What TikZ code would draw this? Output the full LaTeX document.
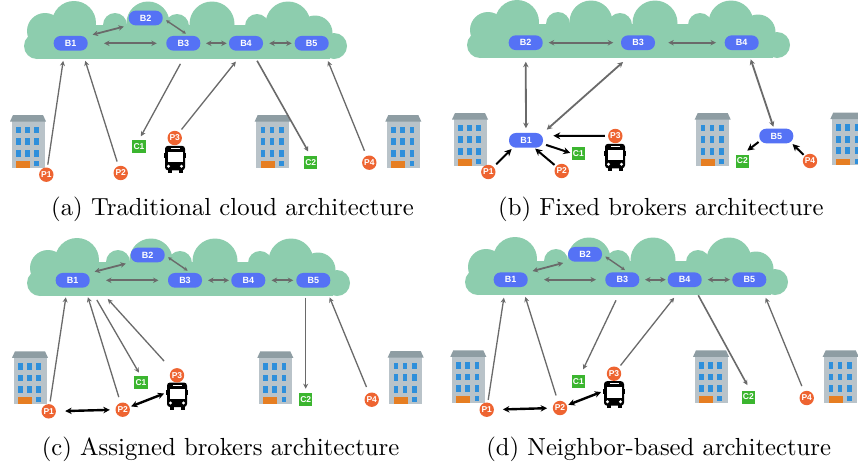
\documentclass[tikz,border=0pt]{standalone}
\usepackage{fontspec}
\setsansfont{Liberation Sans}
\usetikzlibrary{arrows.meta}
\definecolor{cloudc}{HTML}{8DCDAE}
\definecolor{brokerc}{HTML}{5572F5}
\definecolor{pubc}{HTML}{EE6431}
\definecolor{cliec}{HTML}{3BB52F}
\definecolor{linec}{HTML}{6A6A6A}
\definecolor{roofc}{HTML}{8E9DA3}
\definecolor{wallc}{HTML}{B9C3C9}
\definecolor{winc}{HTML}{2E8FDB}
\definecolor{doorc}{HTML}{E67E22}
\tikzset{
  x=1pt,y=-1pt,
  broker/.style={draw=none,fill=brokerc,rounded corners=7pt,minimum width=34pt,minimum height=14.7pt,inner sep=0pt,outer sep=0pt,text=white,font=\sffamily\bfseries\fontsize{9}{9}\selectfont},
  pub/.style={circle,fill=pubc,minimum size=14.4pt,inner sep=0pt,outer sep=0pt,text=white,font=\sffamily\bfseries\fontsize{8.5}{9}\selectfont},
  clie/.style={fill=cliec,minimum width=13.5pt,minimum height=13pt,inner sep=0pt,outer sep=0pt,text=white,font=\sffamily\bfseries\fontsize{8.5}{9}\selectfont},
  busbox/.style={minimum width=22pt,minimum height=27pt,inner sep=0pt,outer sep=0pt},
  captext/.style={inner sep=0pt,scale=2.47,font=\fontsize{10}{12}\selectfont,anchor=base},
  sh/.style 2 args={shorten <=#1pt,shorten >=#2pt},
  thin link/.style={draw=linec,line width=1.3pt,-{Stealth[length=5pt,width=5pt]}},
  thick link/.style={draw=linec,line width=1.8pt,{Stealth[length=5.5pt,width=5.5pt]}-{Stealth[length=5.5pt,width=5.5pt]}},
  plain link/.style={draw=linec,line width=1.4pt,{Stealth[length=4pt,width=4pt]}-{Stealth[length=4pt,width=4pt]}},
  black one/.style={draw=black,line width=2pt,-{Stealth[length=7pt,width=7pt]}},
  black two/.style={draw=black,line width=2.4pt,{Stealth[length=6.5pt,width=6.5pt]}-{Stealth[length=6.5pt,width=6.5pt]}},
}
\newcommand\cloudshape[2]{%
  \begin{scope}[shift={(#1,#2)}]
    \foreach \cx/\cy/\cr in {37/46/13,334/46/13,45/31/18,74/23/22,115/25/12,148/23/21.5,177/26/12,212/24/22.5,257/26/12,288/24/22.5,315/33/17.5}{
      \fill[cloudc] (\cx,\cy) circle[radius=\cr];}
    \fill[cloudc] (37,36) rectangle (330,59);
    \fill[cloudc] (60,25) rectangle (300,59);
    \fill[cloudc] (30,40) rectangle (340,46);
  \end{scope}}
\newcommand\bldg[2]{%
  \begin{scope}[shift={(#1,#2)}]
    \fill[wallc] (-16.5,5) rectangle (16.5,52.5);
    \fill[roofc] (-18,6.5) -- (-15,0) -- (15,0) -- (18,6.5) -- cycle;
    \foreach \wx in {-9.7,-0.7,8.7}{\foreach \wy in {15,26.7,38.3}{
      \fill[winc] (\wx-2.4,\wy-3.4) rectangle (\wx+2.4,\wy+3.4);}}
    \fill[doorc] (-12,46) rectangle (2,52.5);
    \fill[winc] (6.3,46) rectangle (11.1,51);
  \end{scope}}
\newcommand\busart[2]{%
  \begin{scope}[shift={(#1,#2)}]
    \fill[black] (-7.5,8) rectangle (-3.5,13.5);
    \fill[black] (3.5,8) rectangle (7.5,13.5);
    \fill[black,rounded corners=3pt] (-10,-13.5) rectangle (10,11);
    \fill[black] (-11,-6) rectangle (11,-1);
    \fill[white] (-7.5,-7.5) rectangle (7.5,3);
    \fill[white] (-4.5,-11.5) rectangle (4.5,-10.5);
    \fill[white] (-6.5,7) circle[radius=1.6];
    \fill[white] (6.5,7) circle[radius=1.6];
  \end{scope}}
\begin{document}
\begin{tikzpicture}
\clip (0,0) rectangle (858,464);
\fill[white] (0,0) rectangle (858,464);
% ---- clouds
\cloudshape{0}{0}
\cloudshape{443}{-1}
\cloudshape{3}{237}
\cloudshape{441}{236}
% ---- buildings
\bldg{28}{115}\bldg{272.7}{115}\bldg{403.3}{115}
\bldg{470}{113}\bldg{712.7}{113}\bldg{848.3}{112.5}
\bldg{30}{351.3}\bldg{275.3}{351.3}\bldg{405.7}{351}
\bldg{468.3}{350.3}\bldg{711}{350.3}\bldg{840.7}{350.3}
% ---- buses
\busart{175}{159.3}\busart{615}{157.3}\busart{177}{396}\busart{614}{394.7}
% ---- panel a
\node[broker] (aB1) at (70.7,43.3) {B1};
\node[broker] (aB2) at (145.7,18) {B2};
\node[broker] (aB3) at (183.3,43.3) {B3};
\node[broker] (aB4) at (246,43.3) {B4};
\node[broker] (aB5) at (311.7,43.3) {B5};
\node[pub] (aP1) at (46.3,174.7) {P1};
\node[pub] (aP2) at (120.7,173) {P2};
\node[pub] (aP3) at (174.7,138) {P3};
\node[pub] (aP4) at (369.3,162.7) {P4};
\node[clie] (aC1) at (139,146.3) {C1};
\node[clie] (aC2) at (310.7,162.3) {C2};
\draw[thick link,sh={5}{5}] (aB1.north east) -- (aB2.south west);
\draw[plain link,sh={4}{4}] (aB2.east) -- ([xshift=6]aB3.north);
\draw[thick link,sh={16.3}{9.5}] (aB1.east) -- (aB3.west);
\draw[thick link,sh={5.7}{2.3}] (aB3.east) -- (aB4.west);
\draw[thick link,sh={6.3}{3}] (aB4.east) -- (aB5.west);
\draw[thin link,sh={3}{10.4}] (aP1) -- ([xshift=-6]aB1.south);
\draw[thin link,sh={4.8}{10.7}] (aP2) -- ([xshift=11.3]aB1.south);
\draw[thin link,sh={15}{4}] ([xshift=4.3]aB3.south) -- (aC1.north);
\draw[thin link,sh={3.7}{14}] (aP3) -- ([xshift=-1.4]aB4.south);
\draw[thin link,line width=1.6pt,sh={11.6}{5}] ([xshift=5.4]aB4.south) -- (aC2.north);
\draw[thin link,sh={5.7}{11.3}] (aP4) -- ([xshift=12]aB5.south);
% ---- panel b
\node[broker] (bB2) at (525.7,42.7) {B2};
\node[broker] (bB3) at (638,42.7) {B3};
\node[broker] (bB4) at (741.7,42.7) {B4};
\node[broker] (bB1) at (526,140.3) {B1};
\node[broker] (bB5) at (776.3,136) {B5};
\node[pub] (bP1) at (488.3,172) {P1};
\node[pub] (bP2) at (561.7,171) {P2};
\node[pub] (bP3) at (615.3,136) {P3};
\node[pub] (bP4) at (810,161) {P4};
\node[clie] (bC1) at (578.3,153.3) {C1};
\node[clie] (bC2) at (742.3,161) {C2};
\draw[thick link,sh={6}{7.7}] (bB2.east) -- (bB3.west);
\draw[thick link,sh={13.3}{8.7}] (bB3.east) -- (bB4.west);
\draw[thick link,sh={11.7}{4.7}] (bB2.south) -- (bB1.north);
\draw[thick link,sh={18}{5}] ([xshift=-1.5]bB3.south) -- (bB1.north east);
\draw[thick link,sh={9.8}{2}] ([xshift=5.9]bB4.south) -- ([xshift=-2.3]bB5.north);
\draw[black one,sh={3.9}{2}] (bP1) -- ([xshift=4]bB1.south west);
\draw[black one,sh={2.2}{1.5}] (bP2) -- ([xshift=8]bB1.south);
\draw[black one,sh={3.2}{1.3}] ([yshift=-3.6]bB1.east) -- (bC1.west);
\draw[black one,sh={3.3}{10.3}] (bP3.west) -- ([yshift=4.6]bB1.east);
\draw[black one,sh={9.8}{6.3}] ([xshift=7]bB5.west) -- (bC2.north);
\draw[black one,sh={1.8}{1}] (bP4) -- ([xshift=15.5]bB5.south);
% ---- panel c
\node[broker] (cB1) at (72.7,280.3) {B1};
\node[broker] (cB2) at (147.7,255) {B2};
\node[broker] (cB3) at (185,280.3) {B3};
\node[broker] (cB4) at (248.3,280.3) {B4};
\node[broker] (cB5) at (313.3,280.3) {B5};
\node[pub] (cP1) at (48.7,411.3) {P1};
\node[pub] (cP2) at (122.7,409.7) {P2};
\node[pub] (cP3) at (177,375.3) {P3};
\node[pub] (cP4) at (371.7,399.7) {P4};
\node[clie] (cC1) at (141,382.7) {C1};
\node[clie] (cC2) at (305.7,399.7) {C2};
\node[busbox] (cBus) at (177,396) {};
\draw[thick link,sh={5}{5}] (cB1.north east) -- (cB2.south west);
\draw[plain link,sh={4}{4}] (cB2.east) -- ([xshift=6]cB3.north);
\draw[thick link,sh={16.3}{9.5}] (cB1.east) -- (cB3.west);
\draw[thick link,sh={6}{2.3}] (cB3.east) -- (cB4.west);
\draw[thick link,sh={6.3}{3}] (cB4.east) -- (cB5.west);
\draw[thin link,sh={2.8}{9.8}] (cP1) -- ([xshift=-5.4]cB1.south);
\draw[thin link,sh={6}{10}] (cP2) -- ([xshift=12.3]cB1.south);
\draw[thin link,sh={14.2}{4.2}] ([xshift=17]cB1.south) -- (cC1.north);
\draw[thin link,sh={12}{15.3}] ([xshift=-6]cP3) -- ([xshift=24.8]cB1.south);
\draw[thin link,sh={10}{4.5}] ([xshift=-7.6]cB5.south) -- (cC2.north);
\draw[thin link,sh={6.5}{10.6}] (cP4) -- ([xshift=12.3]cB5.south);
\draw[black two,sh={9.3}{5.7}] (cP1.east) -- (cP2.west);
\draw[black two,sh={1.8}{2}] (cP2) -- ([yshift=3.2]cBus.west);
% ---- panel d
\node[broker] (dB1) at (510.7,279.7) {B1};
\node[broker] (dB2) at (585,254.3) {B2};
\node[broker] (dB3) at (622.3,279.7) {B3};
\node[broker] (dB4) at (684.7,279.7) {B4};
\node[broker] (dB5) at (749.3,279.7) {B5};
\node[pub] (dP1) at (486.7,409.7) {P1};
\node[pub] (dP2) at (560,408) {P2};
\node[pub] (dP3) at (614,373.7) {P3};
\node[pub] (dP4) at (806.7,398) {P4};
\node[clie] (dC1) at (578.3,381.7) {C1};
\node[clie] (dC2) at (748.3,397) {C2};
\node[busbox] (dBus) at (614,394.7) {};
\draw[thick link,sh={5}{5}] (dB1.north east) -- (dB2.south west);
\draw[plain link,sh={4}{4}] (dB2.east) -- ([xshift=6]dB3.north);
\draw[thick link,sh={16.3}{9.3}] (dB1.east) -- (dB3.west);
\draw[thick link,sh={5.7}{2}] (dB3.east) -- (dB4.west);
\draw[thick link,sh={6}{2.3}] (dB4.east) -- (dB5.west);
\draw[thin link,sh={2.8}{10.8}] (dP1) -- ([xshift=-5.2]dB1.south);
\draw[thin link,sh={5.9}{10.4}] (dP2) -- ([xshift=11.5]dB1.south);
\draw[thin link,sh={14.7}{6.5}] (dB3.south) -- ([xshift=2]dC1.north);
\draw[thin link,sh={3.3}{13.7}] (dP3) -- ([xshift=-2.1]dB4.south);
\draw[thin link,line width=1.6pt,sh={9.4}{6.2}] ([xshift=9.1]dB4.south) -- ([xshift=2]dC2.north);
\draw[thin link,sh={5.7}{11.7}] (dP4) -- ([xshift=11.9]dB5.south);
\draw[black two,sh={9}{5.7}] (dP1.east) -- (dP2.west);
\draw[black two,sh={1.8}{2}] (dP2) -- ([yshift=3.4]dBus.west);
% ---- captions
\node[captext] (capa) at (232.5,215) {(a) Traditional cloud architecture};
\node[captext] (capb) at (660.8,215) {(b) Fixed brokers architecture};
\node[captext] (capc) at (220.5,455) {(c) Assigned brokers architecture};
\node[captext] (capd) at (658.7,455) {(d) Neighbor-based architecture};
\end{tikzpicture}
\end{document}
